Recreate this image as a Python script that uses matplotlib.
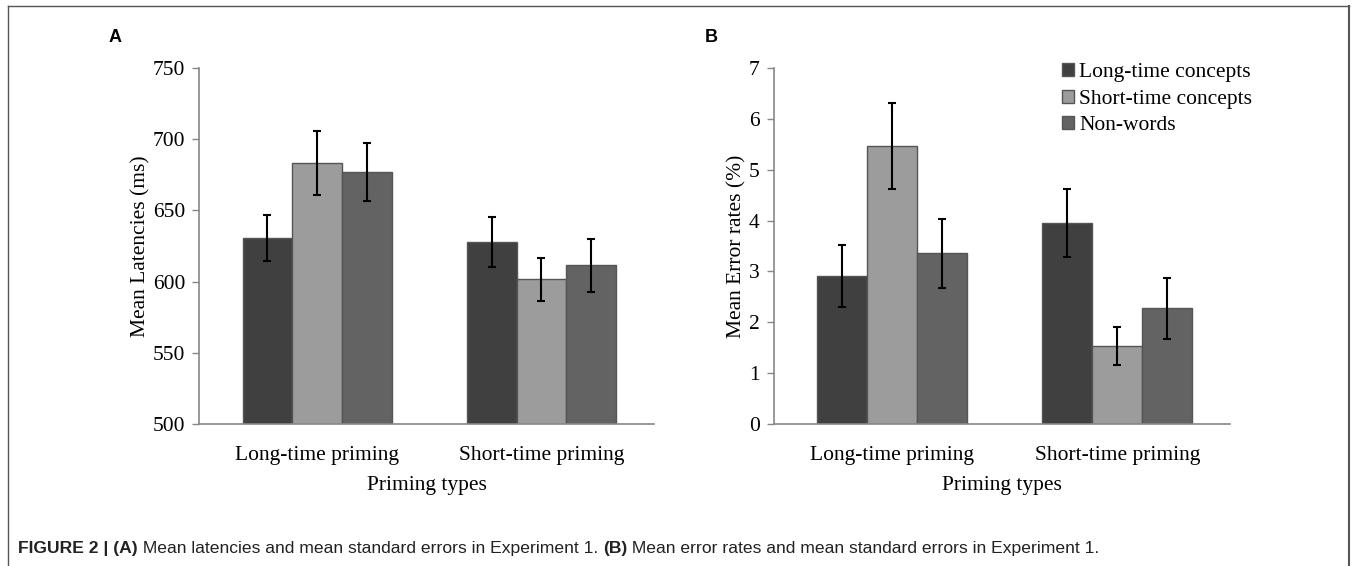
import matplotlib
matplotlib.use('Agg')
import matplotlib.pyplot as plt
from matplotlib.lines import Line2D
from matplotlib.patches import Patch
import numpy as np

groups = ['Long-time priming', 'Short-time priming']
series = ['Long-time concepts', 'Short-time concepts', 'Non-words']
colors = ['#404040', '#9c9c9c', '#636363']

# panel A: latencies (ms), rows = series, cols = groups
lat = [[630.5, 628], [683.5, 601.5], [677, 611.5]]
lat_err = [[16, 17.5], [22.5, 15], [20.5, 18.5]]

# panel B: error rates (%)
errrate = [[2.91, 3.95], [5.47, 1.53], [3.36, 2.28]]
errrate_err = [[0.61, 0.67], [0.84, 0.37], [0.68, 0.6]]

plt.rcParams['font.family'] = ['Liberation Serif', 'DejaVu Serif']

W, H = 1360, 566
fs = 15.5
fig = plt.figure(figsize=(13.6, 5.66), dpi=100)


def draw(ax, vals, errs, ylim, yticks, ylabel, ylab_x):
    x = np.arange(len(groups))
    width = 0.222
    for i in range(len(series)):
        ax.bar(x + (i - 1) * width, vals[i], width, color=colors[i],
               edgecolor='#555555', linewidth=1, label=series[i],
               yerr=errs[i], capsize=3,
               error_kw=dict(ecolor='black', elinewidth=1.5, capthick=1.5))
    ax.set_ylim(*ylim)
    ax.set_yticks(yticks)
    ax.set_xticks(x)
    ax.set_xticklabels(groups, fontsize=fs)
    ax.tick_params(axis='x', length=0, pad=15.5)
    ax.tick_params(axis='y', length=5, width=1, color='#888888', labelsize=fs, pad=5)
    for s in ['top', 'right']:
        ax.spines[s].set_visible(False)
    for s in ['left', 'bottom']:
        ax.spines[s].set_color('#888888')
        ax.spines[s].set_linewidth(1.2)
    ax.set_ylabel(ylabel, fontsize=fs)
    ax.yaxis.set_label_coords(ylab_x, 0.5)
    ax.set_xlabel('Priming types', fontsize=fs)
    ax.xaxis.set_label_coords(0.5, -0.146)


axA = fig.add_axes([199 / W, 1 - 424 / H, 455 / W, 356 / H])
draw(axA, lat, lat_err, (500, 750), [500, 550, 600, 650, 700, 750],
     'Mean Latencies (ms)', -0.107)
axA.set_xlim(-0.527, 1.502)

axB = fig.add_axes([773.6 / W, 1 - 424 / H, 456.4 / W, 356 / H])
draw(axB, errrate, errrate_err, (0, 7), range(8),
     'Mean Error rates (%)', -0.0585)
axB.set_xlim(-0.525, 1.5)

handles = [Patch(facecolor=c, edgecolor='#555555') for c in colors]
axB.legend(handles, series, loc='upper left', bbox_to_anchor=(0.632, 1.013),
           frameon=False, fontsize=fs, handlelength=0.55, handleheight=0.55,
           handletextpad=0.25, labelspacing=0.33, borderpad=0, borderaxespad=0)

fig.text(115 / W, 1 - 37 / H, 'A', fontsize=13, fontweight='bold',
         family='Liberation Sans', ha='center', va='center')
fig.text(711 / W, 1 - 37 / H, 'B', fontsize=13, fontweight='bold',
         family='Liberation Sans', ha='center', va='center')

# frame around the figure (no bottom edge)
fc = '#555555'
fig.add_artist(Line2D([8 / W, 8 / W], [0, 1 - 6 / H], color=fc, lw=1))
fig.add_artist(Line2D([8 / W, 1349 / W], [1 - 6 / H, 1 - 6 / H], color=fc, lw=1))
fig.add_artist(Line2D([1349 / W, 1349 / W], [0, 1 - 6 / H], color=fc, lw=1.5))

# caption with bold pieces
pieces = [('FIGURE 2 | (A)', 'bold'),
          (' Mean latencies and mean standard errors in Experiment 1. ', 'normal'),
          ('(B)', 'bold'),
          (' Mean error rates and mean standard errors in Experiment 1.', 'normal')]
renderer = fig.canvas.get_renderer()
xpos = 18
for txt, wt in pieces:
    t = fig.text(xpos / W, 1 - 548 / H, txt, fontsize=12.6, fontweight=wt,
                 family='Liberation Sans', color='#222222', va='center', ha='left')
    bb = t.get_window_extent(renderer=renderer)
    xpos += bb.width

fig.savefig('out.png', dpi=100)
